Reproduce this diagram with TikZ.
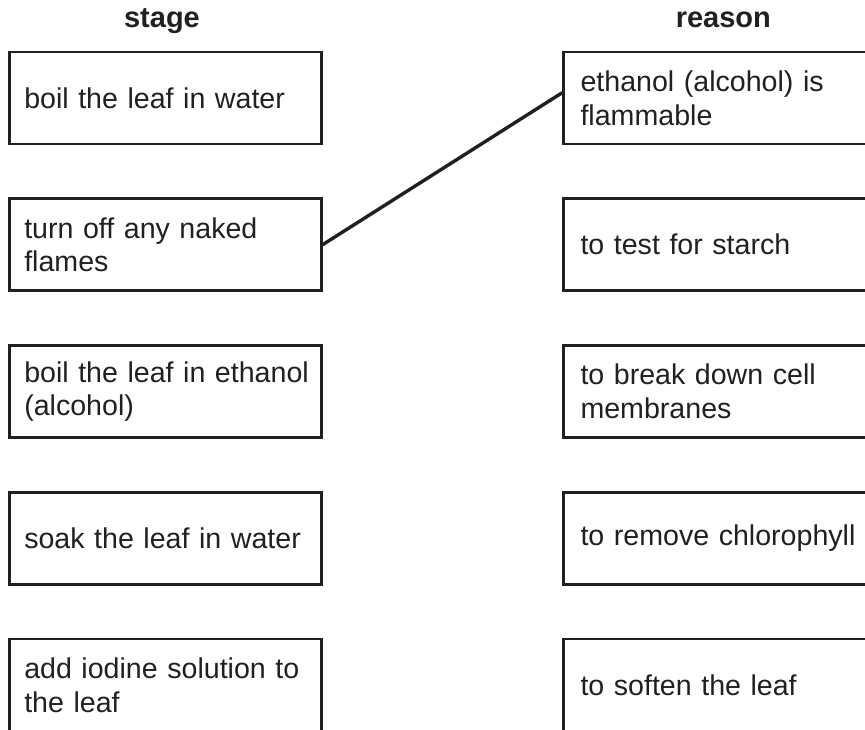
\documentclass[tikz,border=0pt]{standalone}
\usepackage{fontspec}
\setmainfont{Liberation Sans}
\definecolor{ink}{RGB}{35,31,32}
\begin{document}
\begin{tikzpicture}[x=1pt,y=-1pt,
  box/.style={draw=ink, line width=2.6pt, text=ink, minimum height=92pt, inner ysep=0pt, align=left, font=\fontsize{28.6}{33.8}\selectfont},
  lbox/.style={box, inner xsep=15pt, text width=282pt},
  rbox/.style={box, inner xsep=17pt, text width=296pt},
  head/.style={text=ink, font=\fontsize{29}{33.8}\selectfont\bfseries, anchor=base},
  link/.style={draw=ink, line width=3.4pt}]
\clip (0,0) rectangle (865,729);
\node[head] (hs) at (162,27.5) {stage};
\node[head] (hr) at (723.3,27.5) {reason};
\node[lbox] (l1) at (165.25,98) {\mbox{boil the leaf in water}};
\node[lbox] (l2) at (165.25,244.75) {\mbox{turn off any naked}\\flames};
\node[lbox] (l3) at (165.25,391.5) {\mbox{boil the leaf in ethanol}\\(alcohol)};
\node[lbox] (l4) at (165.25,538.25) {\mbox{soak the leaf in water}};
\node[lbox] (l5) at (165.25,685) {\mbox{add iodine solution to}\\the leaf};
\node[rbox] (r1) at (728.5,98) {\mbox{ethanol (alcohol) is}\\flammable};
\node[rbox] (r2) at (728.5,244.75) {\mbox{to test for starch}};
\node[rbox] (r3) at (728.5,391.5) {\mbox{to break down cell}\\membranes};
\node[rbox] (r4) at (728.5,538.25) {\mbox{to remove chlorophyll}};
\node[rbox] (r5) at (728.5,685) {\mbox{to soften the leaf}};
\draw[link] (l2.east) -- ([yshift=5.3pt]r1.west);
\end{tikzpicture}
\end{document}
